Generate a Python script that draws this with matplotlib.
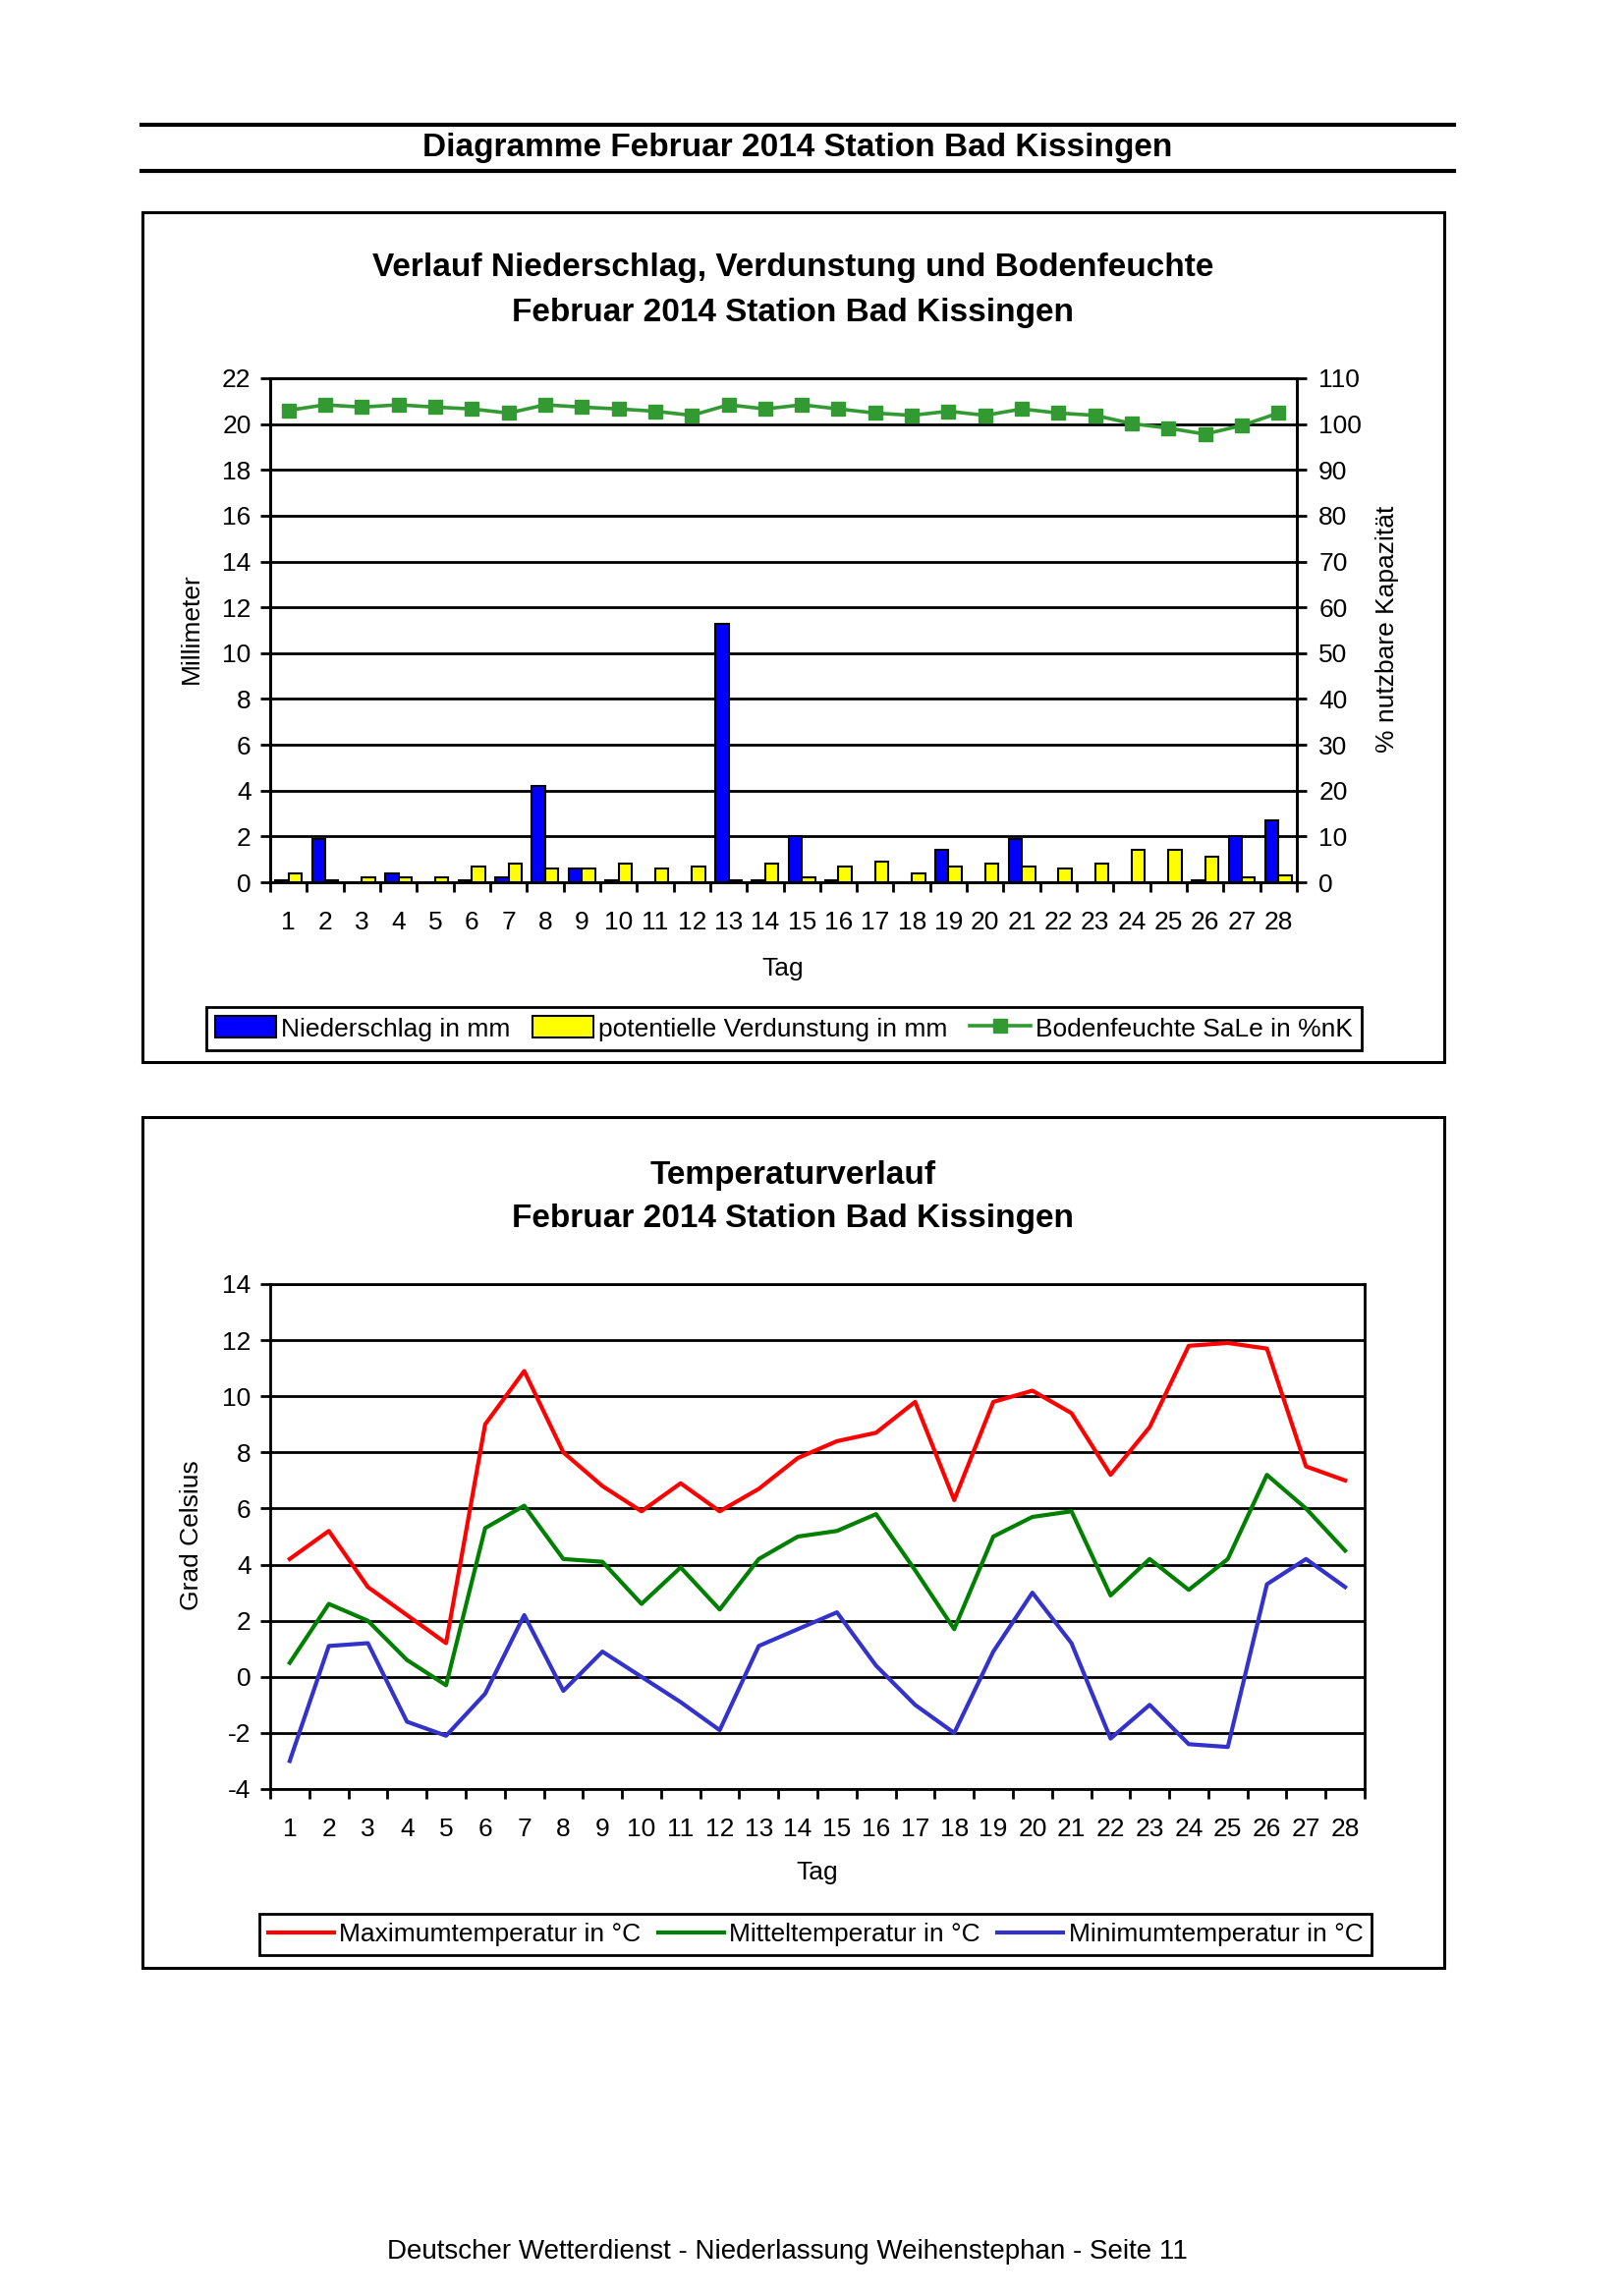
import numpy as np
import matplotlib
matplotlib.use('Agg')
import matplotlib.pyplot as plt
from matplotlib.patches import Rectangle, Patch
from matplotlib.lines import Line2D

plt.rcParams['font.family'] = ['Liberation Sans', 'DejaVu Sans']
plt.rcParams['axes.unicode_minus'] = False

# Februar 2014, Station Bad Kissingen
days = list(range(1, 29))

niederschlag = [0.1, 1.9, 0.0, 0.4, 0.0, 0.1, 0.2, 4.2, 0.6, 0.1, 0.0, 0.0, 11.3, 0.1,
                2.0, 0.1, 0.0, 0.0, 1.4, 0.0, 1.9, 0.0, 0.0, 0.0, 0.0, 0.1, 2.0, 2.7]
verdunstung = [0.4, 0.1, 0.2, 0.2, 0.2, 0.7, 0.8, 0.6, 0.6, 0.8, 0.6, 0.7, 0.1, 0.8,
               0.2, 0.7, 0.9, 0.4, 0.7, 0.8, 0.7, 0.6, 0.8, 1.4, 1.4, 1.1, 0.2, 0.3]
bodenfeuchte = [103.0, 104.2, 103.7, 104.2, 103.7, 103.3, 102.4, 104.2, 103.7, 103.3,
                102.8, 101.9, 104.2, 103.3, 104.2, 103.3, 102.4, 101.9, 102.8, 101.9,
                103.3, 102.4, 101.9, 100.1, 99.1, 97.8, 99.7, 102.4]

t_max = [4.2, 5.2, 3.2, 2.2, 1.2, 9.0, 10.9, 8.0, 6.8, 5.9, 6.9, 5.9, 6.7, 7.8,
         8.4, 8.7, 9.8, 6.3, 9.8, 10.2, 9.4, 7.2, 8.9, 11.8, 11.9, 11.7, 7.5, 7.0]
t_mittel = [0.5, 2.6, 2.0, 0.6, -0.3, 5.3, 6.1, 4.2, 4.1, 2.6, 3.9, 2.4, 4.2, 5.0,
            5.2, 5.8, 3.8, 1.7, 5.0, 5.7, 5.9, 2.9, 4.2, 3.1, 4.2, 7.2, 6.0, 4.5]
t_min = [-3.0, 1.1, 1.2, -1.6, -2.1, -0.6, 2.2, -0.5, 0.9, 0.0, -0.9, -1.9, 1.1, 1.7,
         2.3, 0.4, -1.0, -2.0, 0.9, 3.0, 1.2, -2.2, -1.0, -2.4, -2.5, 3.3, 4.2, 3.2]

W, H = 1653, 2337
fig = plt.figure(figsize=(W / 100, H / 100), dpi=100)
fig.patch.set_facecolor('white')


def fx(x):
    return x / W


def fy(y):
    return 1 - y / H


def px_axes(l, t, r, b):
    return fig.add_axes([fx(l), fy(b), (r - l) / W, (b - t) / H])


def box(l, t, r, b):
    fig.add_artist(Rectangle((fx(l), fy(b)), (r - l) / W, (b - t) / H,
                             transform=fig.transFigure, fill=False, ec='black', lw=2.2))


def style_axis(ax, ymin, ymax, ystep):
    ax.set_xlim(0.5, 28.5)
    ax.set_ylim(ymin, ymax)
    ax.set_yticks(np.arange(ymin, ymax + ystep, ystep))
    ax.set_xticks(np.arange(0.5, 29, 1))
    ax.set_xticklabels([])
    ax.set_xticks(days, minor=True)
    ax.set_xticklabels([str(d) for d in days], minor=True)
    ax.tick_params(axis='x', which='major', direction='out', length=7, width=2)
    ax.tick_params(axis='x', which='minor', length=0, pad=21, labelsize=19)
    ax.tick_params(axis='y', direction='out', length=7, width=2, pad=7, labelsize=19)
    ax.yaxis.grid(True, color='black', lw=2)
    ax.set_axisbelow(True)
    for s in ax.spines.values():
        s.set_linewidth(2)


# Kopfzeile
fig.add_artist(Line2D([fx(144), fx(1480)], [fy(127), fy(127)], color='black', lw=3))
fig.add_artist(Line2D([fx(144), fx(1480)], [fy(174), fy(174)], color='black', lw=3))
fig.text(fx(812), fy(150), 'Diagramme Februar 2014 Station Bad Kissingen',
         ha='center', va='center', fontsize=24, fontweight='bold')

# ---- Niederschlag / Verdunstung / Bodenfeuchte ----
box(145, 216, 1470, 1081)
fig.text(fx(807), fy(273), 'Verlauf Niederschlag, Verdunstung und Bodenfeuchte',
         ha='center', va='center', fontsize=24, fontweight='bold')
fig.text(fx(807), fy(318), 'Februar 2014 Station Bad Kissingen',
         ha='center', va='center', fontsize=24, fontweight='bold')

ax = px_axes(275, 385, 1320, 898)
x = np.array(days)
ax.bar(x - 0.18, niederschlag, width=0.36, color='#0000FF', edgecolor='black', lw=1.5, zorder=3)
ax.bar(x + 0.18, verdunstung, width=0.36, color='#FFFF00', edgecolor='black', lw=1.5, zorder=3)
style_axis(ax, 0, 22, 2)

ax2 = ax.twinx()
ax2.plot(days, bodenfeuchte, color='#339933', lw=2.6, marker='s', ms=10)
ax2.set_ylim(0, 110)
ax2.set_yticks(np.arange(0, 120, 10))
ax2.tick_params(axis='y', direction='out', length=7, width=2, pad=9, labelsize=19)
for s in ax2.spines.values():
    s.set_linewidth(2)

fig.text(fx(195), fy(640), 'Millimeter', rotation=90, ha='center', va='center', fontsize=19)
fig.text(fx(1412), fy(640), '% nutzbare Kapazität', rotation=90, ha='center', va='center', fontsize=19)
fig.text(fx(797), fy(986), 'Tag', ha='center', va='center', fontsize=19)

h1 = [Patch(fc='#0000FF', ec='black', lw=1.5),
      Patch(fc='#FFFF00', ec='black', lw=1.5),
      Line2D([], [], color='#339933', lw=2.6, marker='s', ms=10)]
leg1 = ax.legend(h1, ['Niederschlag in mm', 'potentielle Verdunstung in mm',
                      'Bodenfeuchte SaLe in %nK'],
                 loc='center', bbox_to_anchor=(fx(798), fy(1047)), bbox_transform=fig.transFigure,
                 ncol=3, fontsize=19, frameon=True, fancybox=False, framealpha=1,
                 edgecolor='black', handlelength=2.35, handleheight=0.9, handletextpad=0.2,
                 columnspacing=0.85, borderpad=0.35, borderaxespad=0)
leg1.get_frame().set_linewidth(2)

# ---- Temperaturverlauf ----
box(145, 1137, 1470, 2003)
fig.text(fx(807), fy(1196), 'Temperaturverlauf',
         ha='center', va='center', fontsize=24, fontweight='bold')
fig.text(fx(807), fy(1240), 'Februar 2014 Station Bad Kissingen',
         ha='center', va='center', fontsize=24, fontweight='bold')

axt = px_axes(275, 1307, 1389, 1821)
axt.plot(days, t_max, color='#FF0000', lw=3)
axt.plot(days, t_mittel, color='#008000', lw=3)
axt.plot(days, t_min, color='#3333CC', lw=3)
style_axis(axt, -4, 14, 2)

fig.text(fx(195), fy(1563), 'Grad Celsius', rotation=90, ha='center', va='center', fontsize=19)
fig.text(fx(832), fy(1906), 'Tag', ha='center', va='center', fontsize=19)

h2 = [Line2D([], [], color='#FF0000', lw=3),
      Line2D([], [], color='#008000', lw=3),
      Line2D([], [], color='#3333CC', lw=3)]
leg2 = axt.legend(h2, ['Maximumtemperatur in °C', 'Mitteltemperatur in °C',
                       'Minimumtemperatur in °C'],
                  loc='center', bbox_to_anchor=(fx(830), fy(1969)), bbox_transform=fig.transFigure,
                  ncol=3, fontsize=19, frameon=True, fancybox=False, framealpha=1,
                  edgecolor='black', handlelength=2.55, handletextpad=0.2,
                  columnspacing=0.65, borderpad=0.35, borderaxespad=0)
leg2.get_frame().set_linewidth(2)

# Fusszeile
fig.text(fx(801), fy(2292), 'Deutscher Wetterdienst - Niederlassung Weihenstephan - Seite 11',
         ha='center', va='center', fontsize=20)

fig.savefig('out.png', dpi=100)
